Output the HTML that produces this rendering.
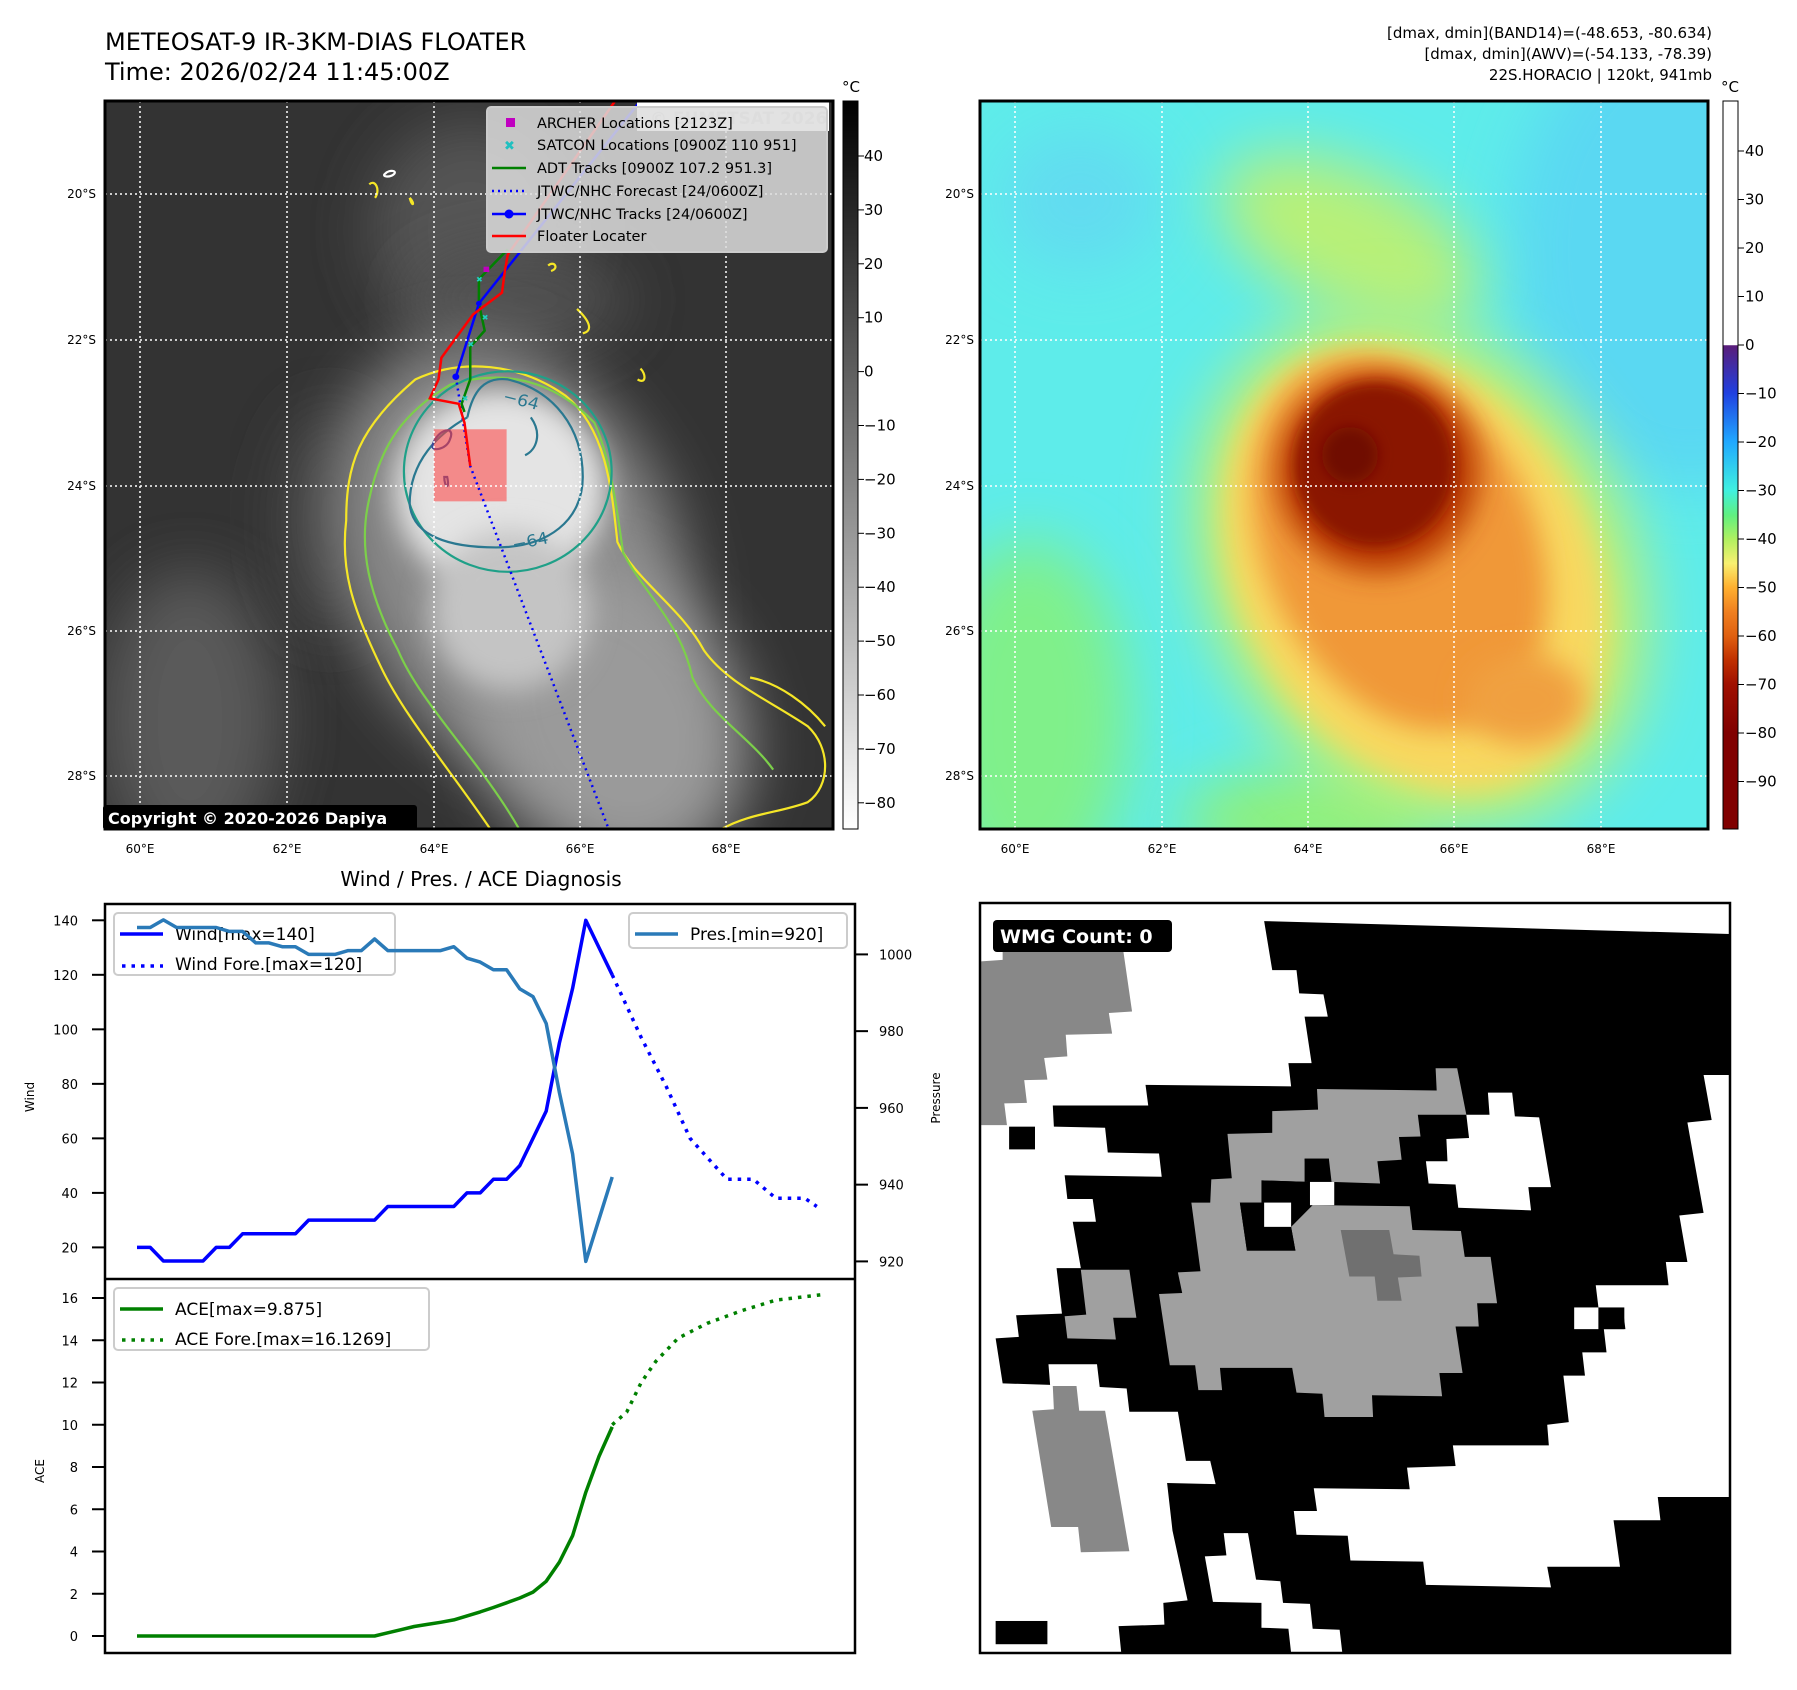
<!DOCTYPE html>
<html><head><meta charset="utf-8">
<style>
html,body{margin:0;padding:0;background:#fff;}
svg{display:block;font-family:"DejaVu Sans","Liberation Sans",sans-serif;}
</style></head>
<body>
<svg id="root" width="1797" height="1690" viewBox="0 0 1797 1690" xmlns="http://www.w3.org/2000/svg">
<defs>
  <filter id="b30" x="-50%" y="-50%" width="200%" height="200%"><feGaussianBlur stdDeviation="30"/></filter>
  <filter id="b15" x="-50%" y="-50%" width="200%" height="200%"><feGaussianBlur stdDeviation="14"/></filter>
  <filter id="b8" x="-50%" y="-50%" width="200%" height="200%"><feGaussianBlur stdDeviation="7"/></filter>
  <clipPath id="clipL"><rect x="105" y="101" width="728" height="728"/></clipPath>
  <clipPath id="clipR"><rect x="980" y="101" width="728" height="728"/></clipPath>
  <linearGradient id="grayBar" x1="0" y1="0" x2="0" y2="1">
    <stop offset="0" stop-color="#000"/><stop offset="1" stop-color="#fff"/>
  </linearGradient>
  <linearGradient id="colBar" x1="0" y1="0" x2="0" y2="1">
    <stop offset="0" stop-color="#fff"/><stop offset="0.335" stop-color="#fff"/>
    <stop offset="0.336" stop-color="#5a1d7a"/><stop offset="0.401" stop-color="#2040e0"/>
    <stop offset="0.468" stop-color="#20a8ff"/><stop offset="0.535" stop-color="#40f0e0"/>
    <stop offset="0.569" stop-color="#60f080"/><stop offset="0.602" stop-color="#b0f060"/>
    <stop offset="0.635" stop-color="#f8f070"/><stop offset="0.668" stop-color="#ffb030"/>
    <stop offset="0.701" stop-color="#f08020"/><stop offset="0.735" stop-color="#e06010"/>
    <stop offset="0.768" stop-color="#c03000"/><stop offset="0.801" stop-color="#a01000"/>
    <stop offset="0.868" stop-color="#800000"/><stop offset="1" stop-color="#800000"/>
  </linearGradient>
</defs>

<!-- Titles -->
<text x="105" y="50" font-size="24" fill="#000">METEOSAT-9 IR-3KM-DIAS FLOATER</text>
<text x="105" y="80" font-size="24" fill="#000">Time: 2026/02/24 11:45:00Z</text>
<g font-size="15" text-anchor="end" fill="#000">
  <text x="1712" y="38">[dmax, dmin](BAND14)=(-48.653, -80.634)</text>
  <text x="1712" y="59">[dmax, dmin](AWV)=(-54.133, -78.39)</text>
  <text x="1712" y="80">22S.HORACIO | 120kt, 941mb</text>
</g>

<!-- ========== TOP LEFT IR PANEL ========== -->
<g>
  <g clip-path="url(#clipL)">
    <rect x="105" y="101" width="728" height="728" fill="#333"/>
    <ellipse cx="470" cy="230" rx="100" ry="110" fill="#555" filter="url(#b30)"/>
    <ellipse cx="190" cy="720" rx="90" ry="150" fill="#5a5a5a" filter="url(#b30)"/>
    <ellipse cx="330" cy="520" rx="50" ry="110" fill="#454545" filter="url(#b30)"/>
    <ellipse cx="520" cy="300" rx="110" ry="50" fill="#505050" filter="url(#b30)"/>
    <ellipse cx="510" cy="560" rx="165" ry="230" fill="#8a8a8a" filter="url(#b30)" transform="rotate(-25 510 560)"/>
    <ellipse cx="610" cy="720" rx="130" ry="160" fill="#9a9a9a" filter="url(#b30)" transform="rotate(-30 610 720)"/>
    <ellipse cx="500" cy="490" rx="105" ry="100" fill="#e4e4e4" filter="url(#b15)"/>
    <ellipse cx="510" cy="610" rx="80" ry="80" fill="#c4c4c4" filter="url(#b15)"/>
    <g transform="scale(0.5770,0.5420)" fill="none" stroke-width="2.2">
      <path vector-effect="non-scaling-stroke" stroke="#f5e627" d="M850,1530 C780,1420 700,1320 660,1230 C610,1120 590,1050 600,960 C600,860 620,790 720,700 C800,660 900,670 980,730 C1050,790 1060,900 1070,1000 C1100,1070 1180,1120 1220,1200 C1260,1260 1330,1290 1400,1340 C1440,1380 1440,1450 1400,1480 C1350,1500 1300,1500 1250,1530"/>
      <path vector-effect="non-scaling-stroke" stroke="#7ccf4a" d="M900,1530 C830,1400 730,1300 690,1200 C640,1100 620,1010 640,920 C660,820 700,760 780,710 C870,680 960,700 1030,780 C1060,850 1070,950 1080,1020 C1120,1100 1180,1150 1200,1250 C1230,1320 1300,1360 1340,1420"/>
      <ellipse vector-effect="non-scaling-stroke" stroke="#1fa088" cx="880" cy="870" rx="180" ry="185"/>
      <path vector-effect="non-scaling-stroke" stroke="#2a7890" d="M810,770 C760,800 710,850 710,930 C715,990 780,1010 860,1010 C950,1010 1010,960 1010,880 C1010,790 960,720 880,700 C840,695 820,720 810,770 M920,770 C940,800 930,830 910,840"/>
      <path vector-effect="non-scaling-stroke" stroke="#3a4a9a" d="M750,820 C760,790 790,785 780,810 C775,830 745,835 750,820 Z M770,880 C770,900 780,905 775,880 Z"/>
      <path vector-effect="non-scaling-stroke" stroke="#f5e627" d="M640,340 C650,330 660,350 650,365 M710,365 C720,375 715,385 710,365 M950,490 C960,480 970,495 955,500 M1000,570 C1020,590 1030,610 1010,615 M1110,680 C1120,690 1120,710 1105,700 M1300,1250 C1350,1260 1400,1300 1430,1340"/>
      <path vector-effect="non-scaling-stroke" stroke="#ffffff" d="M668,320 C675,312 690,315 682,322 C675,328 660,326 668,320 Z"/>
      <text x="870" y="740" font-size="30" fill="#2a7890" stroke="none" transform="rotate(15 870 740)">−64</text>
      <text x="890" y="1015" font-size="30" fill="#2a7890" stroke="none" transform="rotate(-12 890 1015)">−64</text>
      <rect x="752" y="792" width="126" height="133" fill="#ff4040" fill-opacity="0.55" stroke="none"/>
      <polyline vector-effect="non-scaling-stroke" stroke="#0000ff" stroke-width="2.5" stroke-dasharray="2,4" points="790,695 815,860 1055,1530"/>
      <polyline vector-effect="non-scaling-stroke" stroke="#008000" stroke-width="2.5" points="880,460 830,515 830,560 840,610 815,640 815,700 800,745 805,760"/>
      <polyline vector-effect="non-scaling-stroke" stroke="#0000ff" stroke-width="2.5" points="1110,186 830,560 790,695"/>
      <circle cx="790" cy="695" r="6" fill="#0000ff" stroke="none"/>
      <circle cx="830" cy="560" r="5" fill="#0000ff" stroke="none"/>
      <polyline vector-effect="non-scaling-stroke" stroke="#ff0000" stroke-width="2.5" points="1065,188 880,470 875,500 870,540 820,580 765,660 760,700 745,735 795,745 805,780 815,860"/>
      <g fill="#20d0c0" stroke="none" font-size="14">
        <text x="825" y="520">✖</text><text x="835" y="590">✖</text><text x="810" y="640">✖</text><text x="800" y="740">✖</text>
      </g>
      <rect x="838" y="492" width="10" height="10" fill="#c000c0" stroke="none"/>
    </g>
    <g stroke="#fff" stroke-width="1.5" stroke-dasharray="2,3">
      <line x1="140" y1="101" x2="140" y2="829"/><line x1="287" y1="101" x2="287" y2="829"/><line x1="434" y1="101" x2="434" y2="829"/><line x1="580" y1="101" x2="580" y2="829"/><line x1="726" y1="101" x2="726" y2="829"/>
      <line x1="105" y1="194" x2="833" y2="194"/><line x1="105" y1="340" x2="833" y2="340"/><line x1="105" y1="486" x2="833" y2="486"/><line x1="105" y1="631" x2="833" y2="631"/><line x1="105" y1="776" x2="833" y2="776"/>
    </g>
    <rect x="637" y="102" width="192" height="29" fill="#fff"/>
    <text x="650" y="124" font-size="17" font-weight="bold" fill="#ddd">© EUMETSAT 2026</text>
  </g>
  <rect x="105" y="101" width="728" height="728" fill="none" stroke="#000" stroke-width="3"/>
  <g>
    <rect x="487" y="107" width="340" height="145" rx="4" fill="#ddd" fill-opacity="0.85" stroke="#ccc" stroke-width="2"/>
    <g font-size="14.5" fill="#000">
      <text x="537" y="128">ARCHER Locations [2123Z]</text>
      <text x="537" y="150">SATCON Locations [0900Z 110 951]</text>
      <text x="537" y="173">ADT Tracks [0900Z 107.2 951.3]</text>
      <text x="537" y="196">JTWC/NHC Forecast [24/0600Z]</text>
      <text x="537" y="219">JTWC/NHC Tracks [24/0600Z]</text>
      <text x="537" y="241">Floater Locater</text>
    </g>
    <rect x="506" y="118" width="9" height="9" fill="#c000c0"/>
    <text x="504" y="150" font-size="13" fill="#20c0c0" font-weight="bold">✖</text>
    <line x1="492" y1="168" x2="526" y2="168" stroke="#008000" stroke-width="2.5"/>
    <line x1="492" y1="191" x2="526" y2="191" stroke="#0000ff" stroke-width="2.5" stroke-dasharray="2,4"/>
    <line x1="492" y1="214" x2="526" y2="214" stroke="#0000ff" stroke-width="2.5"/><circle cx="509" cy="214" r="4.5" fill="#0000ff"/>
    <line x1="492" y1="236" x2="526" y2="236" stroke="#ff0000" stroke-width="2.5"/>
  </g>
  <g>
    <rect x="103" y="805" width="314" height="25" rx="3" fill="#000"/>
    <text x="108" y="824" font-size="16" font-weight="bold" fill="#fff">Copyright © 2020-2026 Dapiya</text>
  </g>
  <g font-size="12" text-anchor="end" fill="#000">
    <text x="96" y="198">20°S</text><text x="96" y="344">22°S</text><text x="96" y="490">24°S</text><text x="96" y="635">26°S</text><text x="96" y="780">28°S</text>
  </g>
  <g font-size="12" text-anchor="middle" fill="#000">
    <text x="140" y="853">60°E</text><text x="287" y="853">62°E</text><text x="434" y="853">64°E</text><text x="580" y="853">66°E</text><text x="726" y="853">68°E</text>
  </g>
  <g>
    <rect x="843" y="101" width="15" height="728" fill="url(#grayBar)" stroke="#000" stroke-width="1"/>
    <text x="851" y="92" font-size="15" text-anchor="middle">°C</text>
    <g id="grayTicks" font-size="15"></g>
  </g>
</g>

<!-- ========== TOP RIGHT COLOR PANEL ========== -->
<g>
  <g clip-path="url(#clipR)">
    <rect x="980" y="101" width="728" height="728" fill="#5eecea"/>
    <ellipse cx="1690" cy="250" rx="180" ry="240" fill="#5ad8f2" filter="url(#b30)"/>
    <ellipse cx="1080" cy="200" rx="80" ry="70" fill="#62dcf0" filter="url(#b30)"/>
    <ellipse cx="1030" cy="720" rx="100" ry="180" fill="#80f08a" filter="url(#b30)"/>
    <ellipse cx="1310" cy="820" rx="130" ry="50" fill="#90f078" filter="url(#b30)"/>
    <ellipse cx="1350" cy="240" rx="140" ry="70" fill="#b8f078" filter="url(#b30)" transform="rotate(25 1350 240)"/>
    <ellipse cx="1420" cy="570" rx="210" ry="270" fill="#c0f070" filter="url(#b30)" transform="rotate(-30 1420 570)"/>
    <ellipse cx="1415" cy="570" rx="175" ry="235" fill="#f8d860" filter="url(#b15)" transform="rotate(-30 1415 570)"/>
    <ellipse cx="1400" cy="545" rx="135" ry="195" fill="#f09838" filter="url(#b15)" transform="rotate(-25 1400 545)"/>
    <ellipse cx="1525" cy="700" rx="60" ry="45" fill="#f0a040" filter="url(#b15)"/>
    <ellipse cx="1378" cy="472" rx="100" ry="100" fill="#b83800" filter="url(#b15)"/>
    <ellipse cx="1375" cy="465" rx="80" ry="82" fill="#8a1400" filter="url(#b8)"/>
    <ellipse cx="1350" cy="455" rx="28" ry="28" fill="#700a00" filter="url(#b8)"/>
    <g stroke="#fff" stroke-width="1.5" stroke-dasharray="2,3">
      <line x1="1015" y1="101" x2="1015" y2="829"/><line x1="1162" y1="101" x2="1162" y2="829"/><line x1="1308" y1="101" x2="1308" y2="829"/><line x1="1454" y1="101" x2="1454" y2="829"/><line x1="1601" y1="101" x2="1601" y2="829"/>
      <line x1="980" y1="194" x2="1708" y2="194"/><line x1="980" y1="340" x2="1708" y2="340"/><line x1="980" y1="486" x2="1708" y2="486"/><line x1="980" y1="631" x2="1708" y2="631"/><line x1="980" y1="776" x2="1708" y2="776"/>
    </g>
  </g>
  <rect x="980" y="101" width="728" height="728" fill="none" stroke="#000" stroke-width="3"/>
  <g font-size="12" text-anchor="end" fill="#000">
    <text x="974" y="198">20°S</text><text x="974" y="344">22°S</text><text x="974" y="490">24°S</text><text x="974" y="635">26°S</text><text x="974" y="780">28°S</text>
  </g>
  <g font-size="12" text-anchor="middle" fill="#000">
    <text x="1015" y="853">60°E</text><text x="1162" y="853">62°E</text><text x="1308" y="853">64°E</text><text x="1454" y="853">66°E</text><text x="1601" y="853">68°E</text>
  </g>
  <g>
    <rect x="1723" y="101" width="15" height="728" fill="url(#colBar)" stroke="#000" stroke-width="1"/>
    <text x="1730" y="92" font-size="15" text-anchor="middle">°C</text>
    <g id="colTicks" font-size="15"></g>
  </g>
</g>

<!-- ========== BOTTOM LEFT CHART ========== -->
<g>
  <text x="481" y="886" font-size="20" text-anchor="middle">Wind / Pres. / ACE Diagnosis</text>
  <rect x="105" y="904" width="750" height="749" fill="#fff"/>
  <g id="chartMarks"></g>
  <rect x="105" y="904" width="750" height="749" fill="none" stroke="#000" stroke-width="2.5"/>
  <line x1="105" y1="1279" x2="855" y2="1279" stroke="#000" stroke-width="2.5"/>
  <text x="34" y="1097" font-size="12" transform="rotate(-90 34 1097)" text-anchor="middle">Wind</text>
  <text x="44" y="1471" font-size="12" transform="rotate(-90 44 1471)" text-anchor="middle">ACE</text>
  <text x="940" y="1098" font-size="12" transform="rotate(-90 940 1098)" text-anchor="middle">Pressure</text>
</g>

<!-- ========== BOTTOM RIGHT WMG PANEL ========== -->
<g>
  <svg x="980" y="903" width="750" height="750" viewBox="53 45 1391 1452" preserveAspectRatio="none">
    <rect x="53" y="45" width="1391" height="1452" fill="#000"/>
    <g fill="#fff">
      <polygon points="53,45 1444,45 1444,105 580,80 595,175 640,175 645,220 690,222 698,265 655,265 668,355 625,355 630,400 360,397 365,437 188,437 190,478 285,480 290,528 385,530 390,575 210,572 215,618 262,618 268,662 225,662 240,752 195,752 205,840 120,843 125,885 82,888 95,975 183,978 180,938 270,938 275,982 325,985 330,1030 420,1030 435,1125 480,1125 490,1170 400,1168 410,1260 438,1395 393,1400 395,1442 310,1445 315,1497 53,1497"/>
      <polygon points="1395,378 1444,378 1444,1195 1310,1195 1315,1240 1228,1240 1240,1330 1105,1330 1112,1370 880,1365 875,1320 740,1318 735,1270 640,1268 635,1222 678,1222 672,1178 850,1180 845,1138 935,1135 930,1095 1108,1095 1105,1055 1145,1050 1135,960 1175,960 1170,915 1215,915 1210,870 1250,870 1245,828 1200,828 1195,785 1330,785 1325,740 1365,740 1350,650 1395,645 1365,470 1410,465"/>
      <polygon points="880,545 920,545 918,502 960,500 955,455 998,455 995,412 1040,412 1045,458 1090,460 1112,595 1070,595 1075,640 940,635 935,590 885,588"/>
      <polygon points="505,1265 550,1265 565,1355 610,1358 615,1400 665,1402 670,1450 720,1452 725,1497 630,1497 625,1450 575,1448 575,1400 485,1398 470,1310 510,1308"/>
      <rect x="1155" y="828" width="45" height="42"/>
    </g>
    <g fill="#000">
      <rect x="107" y="478" width="48" height="44"/>
      <rect x="82" y="1435" width="96" height="45"/>
      <rect x="1200" y="828" width="48" height="42"/>
    </g>
    <polygon fill="#a0a0a0" points="445,625 480,625 482,580 520,578 512,492 595,490 595,448 680,445 678,405 900,408 898,365 938,365 955,455 865,455 870,497 830,498 835,542 790,545 795,588 705,585 700,540 655,540 660,585 575,582 580,625 535,625 548,718 638,718 630,672 670,630 850,632 855,678 945,680 952,730 1000,730 1012,820 975,820 978,865 935,865 948,955 905,955 910,1000 780,998 782,1040 692,1040 688,995 640,993 632,945 498,945 502,988 458,988 452,940 405,940 385,802 428,800 420,760 462,758"/>
    <g fill="#000">
      <rect x="655" y="540" width="45" height="45"/>
      <polygon points="575,582 660,585 665,630 630,630 630,672 580,672 580,625 575,625"/>
      <polygon points="535,625 580,625 580,672 630,672 638,718 548,718"/>
    </g>
    <rect x="580" y="625" width="50" height="47" fill="#fff"/>
    <rect x="665" y="585" width="45" height="45" fill="#fff"/>
    <polygon fill="#707070" points="722,678 812,678 820,725 868,728 872,768 828,770 835,815 790,815 785,768 738,768"/>
    <polygon fill="#888" points="55,158 95,155 95,132 318,132 335,255 292,258 298,298 212,300 215,342 172,345 178,387 135,388 140,432 98,433 103,475 55,475"/>
    <polygon fill="#a0a0a0" points="240,755 330,755 343,848 300,848 305,890 215,888 210,845 250,842"/>
    <polygon fill="#888" points="188,980 232,980 237,1028 285,1028 330,1300 240,1302 235,1253 185,1253 150,1028 190,1025"/>
  </svg>
  <rect x="980" y="903" width="750" height="750" fill="none" stroke="#000" stroke-width="2.5"/>
  <g>
    <rect x="993" y="920" width="179" height="32" rx="4" fill="#000"/>
    <text x="1000" y="943" font-size="19" font-weight="bold" fill="#fff">WMG Count: 0</text>
  </g>
</g>
</svg>

<script>
// ---- chart data ----
const obsIndex = [0,1,2,3,4,5,6,7,8,9,10,11,12,13,14,15,16,17,18,19,20,21,22,23,24,25,26,27,28,29,30,31,32,33,34,35,36];
const windObs = [20,20,15,15,15,15,20,20,25,25,25,25,25,30,30,30,30,30,30,35,35,35,35,35,35,40,40,45,45,50,60,70,95,115,140,130,120];
const presObs = [1007,1007,1009,1007,1007,1007,1007,1006,1006,1003,1003,1002,1002,1000,1000,1000,1001,1001,1004,1001,1001,1001,1001,1001,1002,999,998,996,996,991,989,982,964,948,920,931,942];
const aceObs = [0,0,0,0,0,0,0,0,0,0,0,0,0,0,0,0,0,0,0,0.15,0.3,0.45,0.55,0.65,0.76,0.95,1.14,1.35,1.57,1.8,2.08,2.59,3.5,4.75,6.8,8.5,9.9];
const windForeIndex = [36,38.2,40.1,41.9,43.2,44.7,46.7,48.4,50.6,51.5];
const windFore = [120,97,79,60,53,45,45,38,38,35];
const aceForeIndex = [36,37.1,38.2,39.3,41,43.2,45.8,48.4,51.8];
const aceFore = [10,10.6,12,13,14.1,14.8,15.4,15.9,16.15];
const windTicks = [20,40,60,80,100,120,140];
const presTicks = [920,940,960,980,1000];
const aceTicks = [0,2,4,6,8,10,12,14,16];
const grayBarTicks = [40,30,20,10,0,-10,-20,-30,-40,-50,-60,-70,-80];
const colBarTicks = [40,30,20,10,0,-10,-20,-30,-40,-50,-60,-70,-80,-90];

// ---- scales ----
function xS(i){ return 137 + i*13.2; }
function windY(v){ return 920.3 + (140 - v)*(327.1/120); }
function presY(p){ return 954.4 + (1000 - p)*(307/80); }
function aceY(a){ return 1636 - a*(338/16); }
function grayY(v){ return 156 + (40 - v)*5.39; }
function colY(v){ return 151 + (40 - v)*4.85; }

const NS = "http://www.w3.org/2000/svg";
function mk(tag, attrs, parent){
  const e = document.createElementNS(NS, tag);
  for (const k in attrs) e.setAttribute(k, attrs[k]);
  parent.appendChild(e);
  return e;
}
function pts(xs, ys, fy){ return xs.map((x,i)=> xS(x).toFixed(1)+","+fy(ys[i]).toFixed(1)).join(" "); }

const g = document.getElementById("chartMarks");

windTicks.forEach(v=>{
  const y = windY(v);
  const l = mk("line",{x1:92,y1:y,x2:105,y2:y,stroke:"#000","stroke-width":2},g);
  
  
  const t = mk("text",{x:78,y:y+5,"font-size":13,"text-anchor":"end"},g);
  
  
  t.textContent = v;
});
presTicks.forEach(v=>{
  const y = presY(v);
  const l = mk("line",{x1:855,y1:y,x2:868,y2:y,stroke:"#000","stroke-width":2},g);
  
  
  const t = mk("text",{x:879,y:y+5,"font-size":13},g);
  
  
  t.textContent = v;
});
aceTicks.forEach(v=>{
  const y = aceY(v);
  const l = mk("line",{x1:92,y1:y,x2:105,y2:y,stroke:"#000","stroke-width":2},g);
  
  
  const t = mk("text",{x:78,y:y+5,"font-size":13,"text-anchor":"end"},g);
  
  
  t.textContent = v;
});

function legendBox(x,y,w,h){
  const r = mk("rect",{x:x,y:y,width:w,height:h,rx:4,fill:"#fff","fill-opacity":0.8,stroke:"#ccc","stroke-width":2},g);
  
  
}
legendBox(114,913,281,62);
let lw = mk("line",{x1:120,y1:934,x2:163,y2:934,stroke:"#0000ff","stroke-width":3.5},g);


let tw = mk("text",{x:175,y:940,"font-size":17},g);


tw.textContent = "Wind[max=140]";
let lwf = mk("line",{x1:122,y1:966,x2:163,y2:966,stroke:"#0000ff","stroke-width":3.5,"stroke-dasharray":"3.5,6"},g);


let twf = mk("text",{x:175,y:970,"font-size":17},g);


twf.textContent = "Wind Fore.[max=120]";

const wl = mk("polyline",{points:pts(obsIndex,windObs,windY),fill:"none",stroke:"#0000ff","stroke-width":3.5,"stroke-linejoin":"round"},g);


const wf = mk("polyline",{points:pts(windForeIndex,windFore,windY),fill:"none",stroke:"#0000ff","stroke-width":3.5,"stroke-dasharray":"3.5,6"},g);



const pl = mk("polyline",{points:pts(obsIndex,presObs,presY),fill:"none",stroke:"#2a7ab8","stroke-width":3.5,"stroke-linejoin":"round"},g);


legendBox(629,913,218,35);
let lp = mk("line",{x1:635,y1:934,x2:678,y2:934,stroke:"#2a7ab8","stroke-width":3.5},g);


let tp = mk("text",{x:690,y:940,"font-size":17},g);


tp.textContent = "Pres.[min=920]";

legendBox(114,1288,315,62);
let la = mk("line",{x1:120,y1:1309,x2:163,y2:1309,stroke:"#008000","stroke-width":3.5},g);


let ta = mk("text",{x:175,y:1315,"font-size":17},g);


ta.textContent = "ACE[max=9.875]";
let laf = mk("line",{x1:122,y1:1340,x2:163,y2:1340,stroke:"#008000","stroke-width":3.5,"stroke-dasharray":"3.5,6"},g);


let taf = mk("text",{x:175,y:1345,"font-size":17},g);


taf.textContent = "ACE Fore.[max=16.1269]";
const al = mk("polyline",{points:pts(obsIndex,aceObs,aceY),fill:"none",stroke:"#008000","stroke-width":3.5,"stroke-linejoin":"round"},g);


const af = mk("polyline",{points:pts(aceForeIndex,aceFore,aceY),fill:"none",stroke:"#008000","stroke-width":3.5,"stroke-dasharray":"3.5,6"},g);



const gt = document.getElementById("grayTicks");
grayBarTicks.forEach(v=>{
  const y = grayY(v);
  const l = mk("line",{x1:858,y1:y,x2:864,y2:y,stroke:"#000","stroke-width":1},gt);
  
  
  const t = mk("text",{x:864,y:y+5},gt);
  
  
  t.textContent = v < 0 ? "−"+Math.abs(v) : v;
});
const ct = document.getElementById("colTicks");
colBarTicks.forEach(v=>{
  const y = colY(v);
  const l = mk("line",{x1:1738,y1:y,x2:1744,y2:y,stroke:"#000","stroke-width":1},ct);
  
  
  const t = mk("text",{x:1745,y:y+5},ct);
  
  
  t.textContent = v < 0 ? "−"+Math.abs(v) : v;
});
</script>
</body></html>
